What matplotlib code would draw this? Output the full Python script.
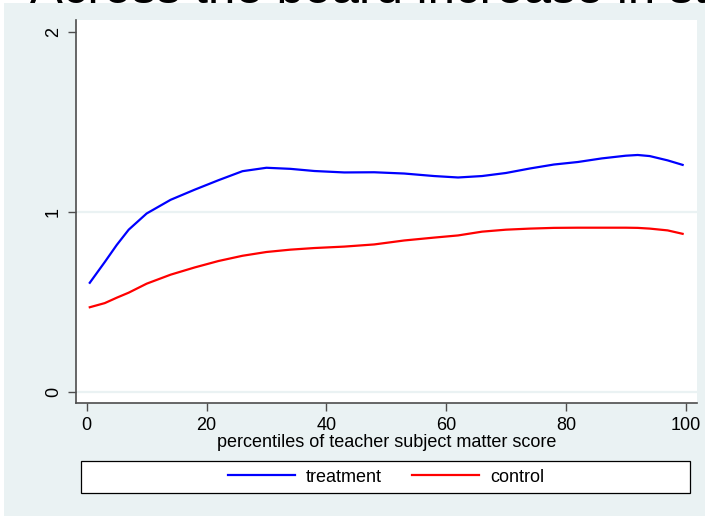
#!/usr/bin/env python3
"""
plot.py

Smoothed score curves by teacher subject-matter percentile,
treatment vs control (Stata s2color look).

Writes out.png (705 x 516 px).
"""

import matplotlib.pyplot as plt
import matplotlib as mpl
from matplotlib.patches import Rectangle

mpl.rcParams['font.family'] = ['Liberation Sans', 'DejaVu Sans']
mpl.rcParams['font.size'] = 13

BG = '#EAF2F3'
AXIS_GREY = '#4d4d4d'

TITLE = 'Across the board increase in student achievement'
XLABEL = 'percentiles of teacher subject matter score'
SERIES_NAMES = ['treatment', 'control']
SERIES_COLORS = ['#0000FF', '#FF0000']

PCTILE = [0.5, 3, 5, 7, 10, 14, 18, 22, 26, 30, 34, 38, 43, 48, 53,
          58, 62, 66, 70, 74, 78, 82, 86, 90, 92, 94, 97, 99.5]
TREATMENT = [0.605, 0.720, 0.815, 0.900, 0.990, 1.066, 1.122, 1.175,
             1.225, 1.244, 1.238, 1.226, 1.218, 1.219, 1.212, 1.198,
             1.190, 1.198, 1.215, 1.240, 1.262, 1.276, 1.296, 1.311,
             1.315, 1.309, 1.285, 1.260]
CONTROL = [0.469, 0.492, 0.522, 0.550, 0.600, 0.650, 0.690, 0.726,
           0.755, 0.776, 0.789, 0.798, 0.806, 0.818, 0.840, 0.856,
           0.868, 0.889, 0.900, 0.906, 0.910, 0.911, 0.911, 0.911,
           0.910, 0.906, 0.896, 0.877]

X_TICKS = [0, 20, 40, 60, 80, 100]
Y_TICKS = [0, 1, 2]

W, H = 705, 516
fig = plt.figure(figsize=(W / 100, H / 100), dpi=100, facecolor='white')

# outer light background (Stata graph region)
fig.patches.append(Rectangle((4 / W, 0), 1 - 4 / W, 1 - 3 / H,
                             transform=fig.transFigure, facecolor=BG,
                             edgecolor='none', zorder=-10))

# title, mostly clipped off the top of the canvas
fig.text(30 / W, 1 - 3 / H, TITLE, fontsize=35.5, ha='left', va='baseline',
         color='black', zorder=5)

ax = fig.add_axes([76 / W, (H - 403) / H, (697 - 76) / W, (403 - 20) / H])
ax.set_facecolor('white')

for yv in [0, 1]:
    ax.axhline(yv, color=BG, lw=1.6, zorder=1)

for vals, name, col in zip([TREATMENT, CONTROL], SERIES_NAMES, SERIES_COLORS):
    ax.plot(PCTILE, vals, color=col, lw=1.6, label=name, zorder=3,
            solid_joinstyle='round')

ax.set_xlim(-1.8, 101.9)
ax.set_ylim(-0.063, 2.065)
ax.set_xticks(X_TICKS)
ax.set_yticks(Y_TICKS)
ax.tick_params(axis='both', direction='out', length=5.5, width=1.0,
               color=AXIS_GREY, pad=4.5, labelsize=13)
ax.tick_params(axis='y', labelrotation=90)
for lab in ax.get_yticklabels():
    lab.set_va('center')

for side in ['top', 'right']:
    ax.spines[side].set_visible(False)
for side in ['left', 'bottom']:
    ax.spines[side].set_color(AXIS_GREY)
    ax.spines[side].set_linewidth(1.2)

ax.set_xlabel(XLABEL, fontsize=13, labelpad=0)

# legend box below the plot
fig.patches.append(Rectangle((81 / W, (H - 493) / H), (690 - 81) / W, 32 / H,
                             transform=fig.transFigure, facecolor='white',
                             edgecolor='black', lw=0.9, zorder=2))
handles, labels = ax.get_legend_handles_labels()
leg = fig.legend(handles, labels, loc='center', ncol=2, frameon=False,
                 bbox_to_anchor=(386 / W, 1 - 477 / H), fontsize=13,
                 handlelength=3.7, handletextpad=0.6, columnspacing=1.7)
leg.set_zorder(3)

fig.savefig('out.png', dpi=100, facecolor=fig.get_facecolor())
